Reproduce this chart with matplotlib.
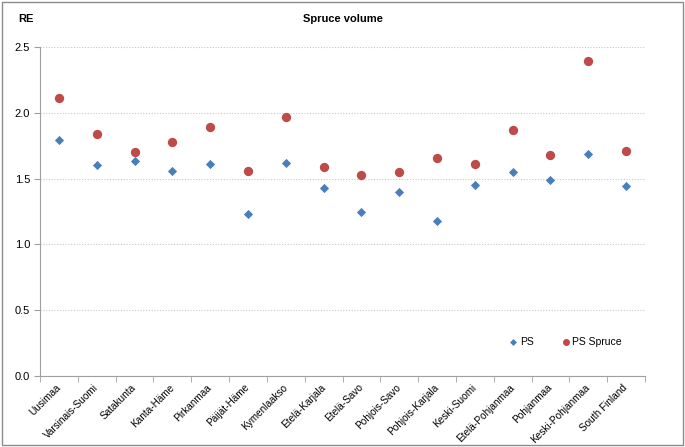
import numpy as np
import matplotlib.pyplot as plt
from matplotlib.patches import Rectangle

# data
regions = ["Uusimaa", "Varsinais-Suomi", "Satakunta", "Kanta-Häme", "Pirkanmaa",
           "Päijät-Häme", "Kymenlaakso", "Etelä-Karjala", "Etelä-Savo", "Pohjois-Savo",
           "Pohjois-Karjala", "Keski-Suomi", "Etelä-Pohjanmaa", "Pohjanmaa",
           "Keski-Pohjanmaa", "South Finland"]
ps = [1.79, 1.60, 1.63, 1.56, 1.61, 1.23, 1.62, 1.43, 1.25, 1.40,
      1.18, 1.45, 1.55, 1.49, 1.69, 1.44]
ps_spruce = [2.11, 1.84, 1.70, 1.78, 1.89, 1.56, 1.97, 1.59, 1.53, 1.55,
             1.66, 1.61, 1.87, 1.68, 2.39, 1.71]
yticks = [0.0, 0.5, 1.0, 1.5, 2.0, 2.5]

plt.rcParams['font.family'] = ['Liberation Sans', 'DejaVu Sans']

fig = plt.figure(figsize=(6.85, 4.47), dpi=100)
ax = fig.add_axes([40/685, 71/447, 605/685, 329/447])

x = np.arange(len(regions))
ax.scatter(x, ps, marker='D', s=22, color='#4a7ebb', label='PS', zorder=3, linewidths=0)
ax.scatter(x, ps_spruce, marker='o', s=45, color='#be4b48', label='PS Spruce', zorder=3, linewidths=0)

ax.set_xlim(-0.5, len(regions) - 0.5)
ax.set_ylim(0, 2.5)
ax.set_yticks(yticks)
ax.set_yticklabels(["%.1f" % v for v in yticks], fontsize=8)
ax.yaxis.grid(True, color='#c8c8c8', linestyle=(0, (1, 1.5)), linewidth=0.8)
ax.set_axisbelow(True)

ax.set_xticks(x)
ax.set_xticklabels(regions, rotation=45, ha='right', va='center', rotation_mode='anchor', fontsize=7.2)
ax.tick_params(axis='x', which='major', length=0, pad=7)
ax.set_xticks(np.arange(-0.5, len(regions)), minor=True)
ax.tick_params(axis='x', which='minor', length=4, color='#a0a0a0')
ax.tick_params(axis='y', length=4, color='#a0a0a0', pad=3)

for s in ['top', 'right']:
    ax.spines[s].set_visible(False)
for s in ['left', 'bottom']:
    ax.spines[s].set_color('#a0a0a0')
    ax.spines[s].set_linewidth(0.8)

fig.text(343/685, 1 - 19/447, "Spruce volume", ha='center', va='center', fontsize=8, fontweight='bold')
fig.text(18/685, 1 - 19/447, "RE", ha='left', va='center', fontsize=8, fontweight='bold')

ax.legend(loc='center', bbox_to_anchor=(566/685, 1 - 342/447), bbox_transform=fig.transFigure,
          ncol=2, frameon=False, fontsize=7.5, handlelength=0.6, handletextpad=0.3,
          columnspacing=2.8, markerscale=0.75)

fig.patches.append(Rectangle((2/685, 2/447), 681/685, 443/447, transform=fig.transFigure,
                             fill=False, edgecolor='#8c8c8c', linewidth=1))

fig.savefig("out.png", dpi=100)
